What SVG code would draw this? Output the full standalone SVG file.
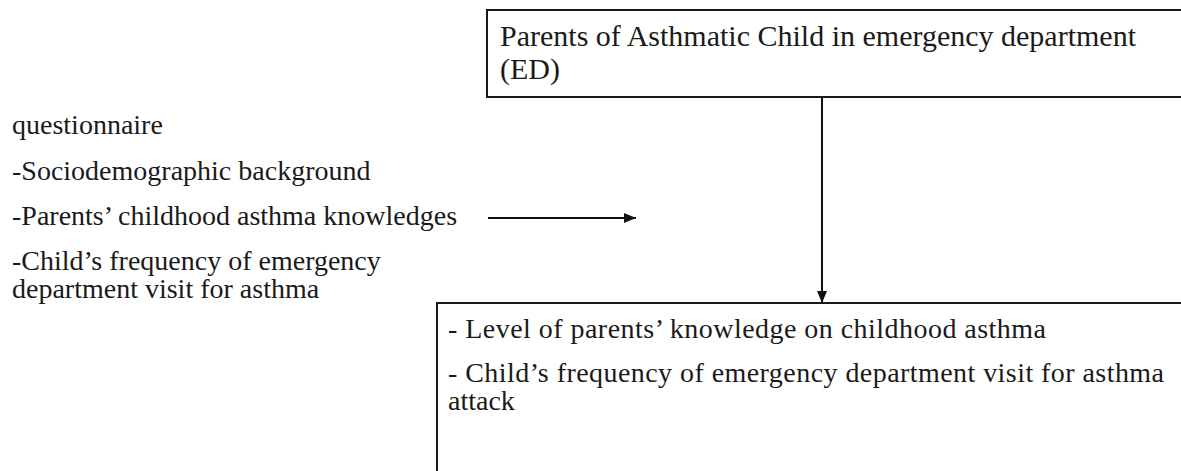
<svg xmlns="http://www.w3.org/2000/svg" width="1181" height="471" viewBox="0 0 1181 471">
<style>
.t{font-family:"Liberation Serif","Times New Roman",serif;font-size:28px;fill:#1a1a1a}
.tb{font-size:30px}
.box{fill:#fff;stroke:#1a1a1a;stroke-width:2}
.ln{stroke:#111;stroke-width:2;fill:none}
</style>
<defs>
<marker id="ah" viewBox="0 0 12 10" refX="12" refY="5" markerWidth="12" markerHeight="10" markerUnits="userSpaceOnUse" orient="auto">
<path d="M0,0 L12,5 L0,10 Z" fill="#111"/>
</marker>
</defs>
<rect width="1181" height="471" fill="#fff"/>
<g id="node-parents">
<rect class="box" x="487" y="10" width="720" height="87"/>
<text class="t tb" x="500" y="46">Parents of Asthmatic Child in emergency department</text>
<text class="t tb" x="500" y="79">(ED)</text>
</g>
<g id="node-questionnaire">
<text class="t" x="12" y="134">questionnaire</text>
<text class="t" x="12" y="180">-Sociodemographic background</text>
<text class="t" x="12" y="225">-Parents’ childhood asthma knowledges</text>
<text class="t" x="12" y="270">-Child’s frequency of emergency</text>
<text class="t" x="12" y="298">department visit for asthma</text>
</g>
<g id="node-outcome">
<rect class="box" x="437" y="303" width="770" height="190"/>
<text class="t" x="448" y="338" textLength="598" lengthAdjust="spacing">- Level of parents’ knowledge on childhood asthma</text>
<text class="t" x="448" y="382" textLength="716" lengthAdjust="spacing">- Child’s frequency of emergency department visit for  asthma</text>
<text class="t" x="448" y="410">attack</text>
</g>
<g id="connectors">
<line class="ln" x1="488" y1="218" x2="636" y2="218" marker-end="url(#ah)"/>
<line class="ln" x1="822" y1="97" x2="822" y2="303" marker-end="url(#ah)"/>
</g>
</svg>
